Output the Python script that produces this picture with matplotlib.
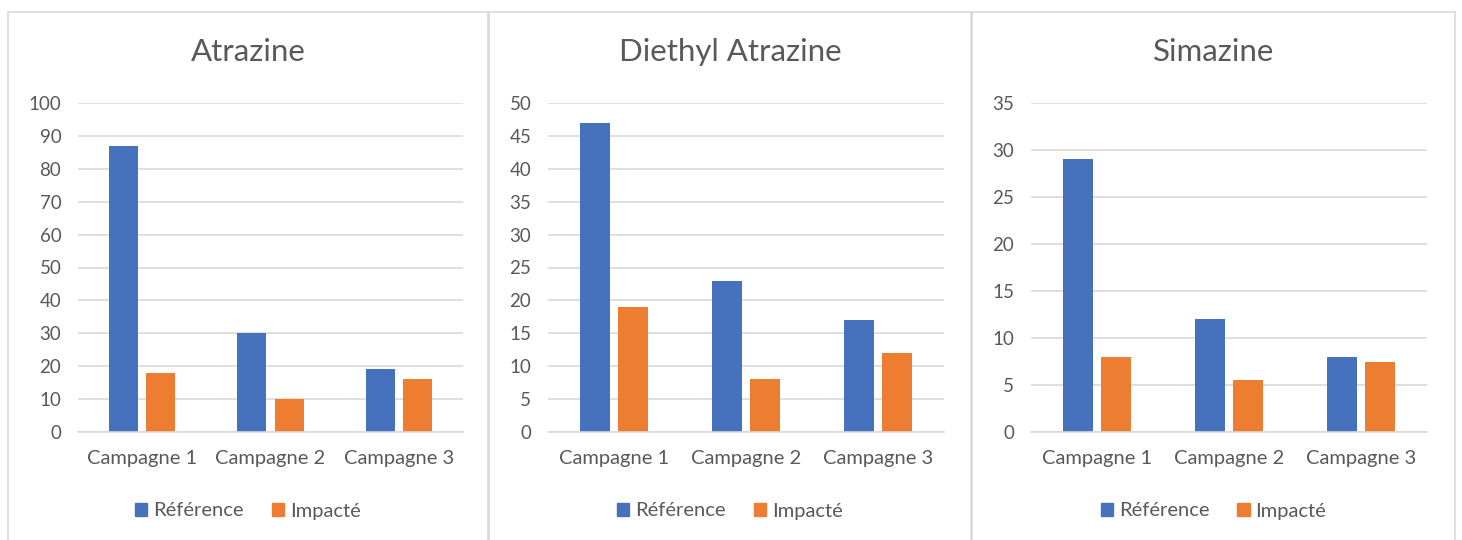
import numpy as np
import matplotlib.pyplot as plt
from matplotlib.patches import Rectangle, Patch

plt.rcParams['font.family'] = ['Lato', 'DejaVu Sans']

# Data
campagnes = ['Campagne 1', 'Campagne 2', 'Campagne 3']
titles = ['Atrazine', 'Diethyl Atrazine', 'Simazine']
reference = [[87, 30, 19], [47, 23, 17], [29, 12, 8]]
impacte = [[18, 10, 16], [19, 8, 12], [8, 5.5, 7.5]]
y_max = [100, 50, 35]
y_step = [10, 5, 5]

blue = '#4672BD'
orange = '#ED7D31'
text_col = '#595959'
grid_col = '#D9D9D9'

W, H = 1462, 540
fig = plt.figure(figsize=(W / 100, H / 100), dpi=100)

# panel frames (pixels): left, right
panels = [(8, 488), (489, 971), (972, 1455)]
axes_x = [(78, 463), (548, 944), (1031, 1427)]
top_y, zero_y = 103, 432

for i in range(3):
    pl, pr = panels[i]
    # frame runs past the bottom edge (cut off as in the screenshot)
    fig.patches.append(Rectangle((pl / W, -0.05), (pr - pl) / W, 1.05 - 12 / H,
                                 transform=fig.transFigure, fill=False,
                                 edgecolor='#D9D9D9', linewidth=1.2))
    ax_l, ax_r = axes_x[i]
    ax = fig.add_axes([ax_l / W, 1 - zero_y / H, (ax_r - ax_l) / W, (zero_y - top_y) / H])
    x = np.arange(3)
    ax.bar(x - 0.145, reference[i], width=0.227, color=blue, label='Référence')
    ax.bar(x + 0.145, impacte[i], width=0.227, color=orange, label='Impacté')
    ax.set_xlim(-0.5, 2.5)
    ax.set_ylim(0, y_max[i])
    ax.set_yticks(np.arange(0, y_max[i] + 1, y_step[i]))
    ax.set_xticks(x)
    ax.set_xticklabels(campagnes)
    ax.grid(axis='y', color=grid_col, linewidth=1.2)
    ax.set_axisbelow(True)
    for s in ['top', 'right', 'left']:
        ax.spines[s].set_visible(False)
    ax.spines['bottom'].set_color(grid_col)
    ax.spines['bottom'].set_linewidth(1.2)
    ax.tick_params(axis='y', length=0, pad=12, labelsize=13.5, labelcolor=text_col)
    ax.tick_params(axis='x', length=0, pad=13, labelsize=14.5, labelcolor=text_col)
    cx = (pl + pr) / 2 / W
    fig.text(cx, 1 - 52 / H, titles[i], ha='center', va='center',
             fontsize=22.5, color=text_col)
    handles = [Patch(color=blue, label='Référence'), Patch(color=orange, label='Impacté')]
    fig.legend(handles=handles, loc='center', bbox_to_anchor=(cx, 1 - 511 / H),
               ncol=2, frameon=False, fontsize=14.5, labelcolor=text_col,
               handlelength=0.6, handleheight=0.6, handletextpad=0.3, columnspacing=1.4)

fig.savefig('out.png', dpi=100, facecolor='white')
